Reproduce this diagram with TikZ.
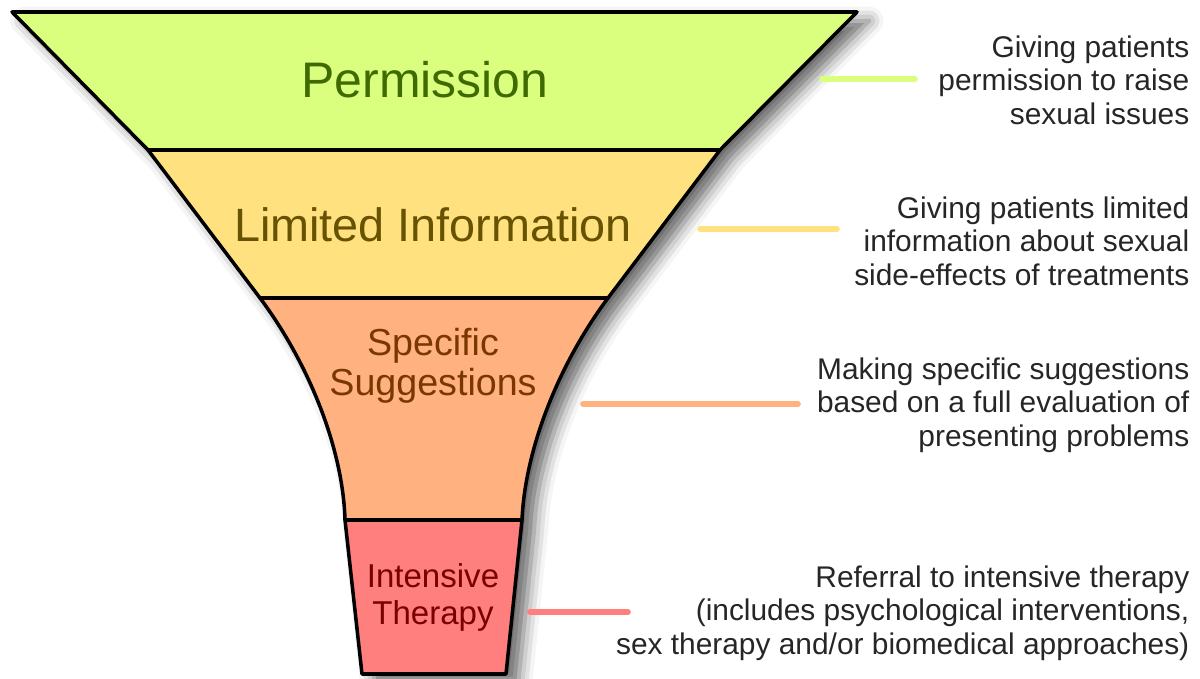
\documentclass[tikz,border=0pt]{standalone}
\usepackage{fontspec}
\setmainfont{Liberation Sans}
\usetikzlibrary{shadows.blur}
\definecolor{permfill}{HTML}{DAFF7F}
\definecolor{infofill}{HTML}{FFE27F}
\definecolor{suggfill}{HTML}{FFB27F}
\definecolor{therfill}{HTML}{FF7F7F}
\definecolor{permtext}{HTML}{3F6A00}
\definecolor{infotext}{HTML}{665200}
\definecolor{suggtext}{HTML}{7A3800}
\definecolor{thertext}{HTML}{7A0000}
\definecolor{desctext}{HTML}{262626}

\begin{document}
\begin{tikzpicture}[x=0.01cm,y=-0.01cm,
  band/.style={draw=black,line width=1pt,line join=round},
  tick/.style={line width=1.6pt,line cap=round},
  desc/.style={anchor=east,align=right,inner sep=0pt,text=desctext,font=\fontsize{8.5}{9.5}\selectfont}]
%picture
\useasboundingbox (0,0) rectangle (1200,679);
\coordinate (tl) at (12,12);
\coordinate (tr) at (857,12);
\coordinate (pl) at (148,150);
\coordinate (pr) at (720,150);
\coordinate (il) at (260,298);
\coordinate (ir) at (608,298);
\coordinate (sl) at (345,520);
\coordinate (sr) at (522,520);
\coordinate (bl) at (362,674);
\coordinate (br) at (506,674);
\path[fill=white,blur shadow={shadow xshift=3.5pt,shadow yshift=-2.5pt,shadow blur radius=4pt,shadow opacity=60}]
  (tl) -- (tr) -- (pr) -- (ir) .. controls (558,365) and (525,450) .. (sr) -- (br)
  -- (bl) -- (sl) .. controls (343,450) and (310,365) .. (il) -- (pl) -- cycle;
\draw[band,fill=permfill] (tl) -- (tr) -- (pr) -- (pl) -- cycle;
\draw[band,fill=infofill] (pl) -- (pr) -- (ir) -- (il) -- cycle;
\draw[band,fill=suggfill] (il) -- (ir) .. controls (558,365) and (525,450) .. (sr)
  -- (sl) .. controls (343,450) and (310,365) .. (il) -- cycle;
\draw[band,fill=therfill] (sl) -- (sr) -- (br) -- (bl) -- cycle;
\node (perm) at (425,80) [text=permtext,font=\fontsize{14.2}{16}\selectfont] {Permission};
\node (info) at (433,225) [text=infotext,font=\fontsize{13.3}{15}\selectfont] {Limited Information};
\node (sugg) at (433,366) [align=center,text=suggtext,font=\fontsize{10.7}{11.3}\selectfont] {Specific\\Suggestions};
\node (ther) at (433,597) [align=center,text=thertext,font=\fontsize{9.4}{10.5}\selectfont] {Intensive\\Therapy};
\node (permdesc) at (1190,80) [desc] {Giving patients\\permission to raise\\sexual issues};
\node (infodesc) at (1190,241) [desc] {Giving patients limited\\information about sexual\\side-effects of treatments};
\node (suggdesc) at (1190,405) [desc] {Making specific suggestions\\based on a full evaluation of\\presenting problems};
\node (therdesc) at (1190,613) [desc] {Referral to intensive therapy\\(includes psychological interventions,\\sex therapy and/or biomedical approaches)};
\coordinate (perma) at (822,79);
\coordinate (permb) at (915,79);
\coordinate (infoa) at (700,229);
\coordinate (infob) at (837,229);
\coordinate (sugga) at (583,404);
\coordinate (suggb) at (798,404);
\coordinate (thera) at (530,612);
\coordinate (therb) at (628,612);
\draw[tick,draw=permfill] (perma) -- (permb);
\draw[tick,draw=infofill] (infoa) -- (infob);
\draw[tick,draw=suggfill] (sugga) -- (suggb);
\draw[tick,draw=therfill] (thera) -- (therb);
\end{tikzpicture}
\end{document}
